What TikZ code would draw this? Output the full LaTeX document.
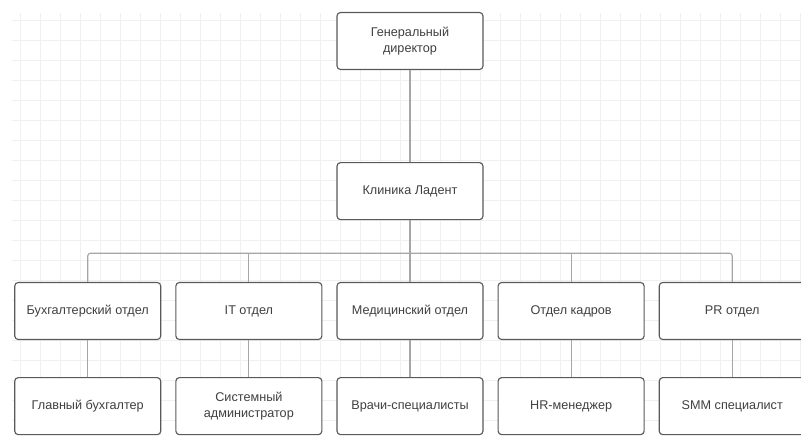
\documentclass[tikz,border=0pt]{standalone}
\usepackage{fontspec}
\setmainfont{Liberation Sans}
\usepackage{tikz}
\usetikzlibrary{positioning}
\tikzset{
  unit/.style={rectangle,draw=black!65,line width=0.8pt,rounded corners=2.5pt,fill=white,align=center,minimum width=3.65cm,minimum height=1.425cm,font=\fontsize{9}{11.5}\selectfont,text=black!75},
  link/.style={draw=black!35,line width=0.8pt},
  bggrid/.style={draw=black!6,line width=0.4pt}
}
\begin{document}
\begin{tikzpicture}[node distance=0.35cm]
			\useasboundingbox (0,0) rectangle (20.025,-10.875);
			\draw[bggrid] (0.3,-0.325) grid[step=0.5cm] (20.025,-10.875);
			
			\node[unit] (ceo) at (10.25,-1.025) {Генеральный\\директор};
			\node[unit, below=2.3cm of ceo] (clinic) {Клиника Ладент};
			
			\node[unit] (med) at (10.25,-7.775) {Медицинский отдел};
			\node[unit, left=of med] (it) {IT отдел};
			\node[unit, left=of it] (acc) {Бухгалтерский отдел};
			\node[unit, right=of med] (hr) {Отдел кадров};
			\node[unit, right=of hr] (pr) {PR отдел};
			
			\node[unit, below=0.925cm of acc] (chief) {Главный бухгалтер};
			\node[unit, below=0.925cm of it] (admin) {Системный\\администратор};
			\node[unit, below=0.925cm of med] (doctors) {Врачи-специалисты};
			\node[unit, below=0.925cm of hr] (hrman) {HR-менеджер};
			\node[unit, below=0.925cm of pr] (smm) {SMM специалист};
			
			\coordinate[below=0.825cm of clinic] (bus);
			
			\draw[link] (ceo) -- (clinic);
			\draw[link] (clinic) -- (bus);
			\draw[link, rounded corners=2pt] (acc.north) |- (bus) -| (pr.north);
			\draw[link] (it.north) -- (it.north |- bus);
			\draw[link] (med.north) -- (bus);
			\draw[link] (hr.north) -- (hr.north |- bus);
			\draw[link] (acc) -- (chief);
			\draw[link] (it) -- (admin);
			\draw[link] (med) -- (doctors);
			\draw[link] (hr) -- (hrman);
			\draw[link] (pr) -- (smm);
			
		\end{tikzpicture}
\end{document}
